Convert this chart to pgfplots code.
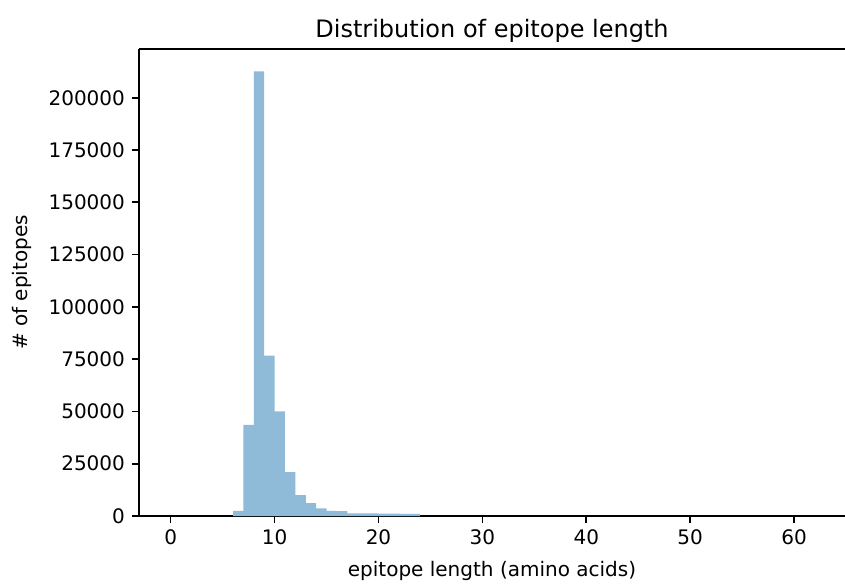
\documentclass[border=0pt]{standalone}
\usepackage{fontspec}
\setmainfont{DejaVu Sans}
\usepackage{pgfplots}
\pgfplotsset{compat=1.18}

\definecolor{barblue}{HTML}{8FBBD9}

\begin{document}
\begin{tikzpicture}
\begin{axis}[
    at={(0,0)}, anchor=south west,
    scale only axis,
    width=353pt, height=233.5pt,
    xmin=-3.05, xmax=64.9,
    ymin=0, ymax=223300,
    scaled y ticks=false,
    axis x line*=bottom,
    axis y line*=left,
    axis line style={line width=0.8pt, -},
    tick align=outside,
    major tick length=3.5pt,
    every tick/.style={line width=0.8pt, black},
    xtick={0,10,20,30,40,50,60},
    xticklabels={0,10,20,30,40,50,60},
    ytick={0,25000,50000,75000,100000,125000,150000,175000,200000},
    yticklabels={0,25000,50000,75000,100000,125000,150000,175000,200000},
    tick label style={font=\fontsize{10}{12}\selectfont},
    title={Distribution of epitope length},
    title style={font=\fontsize{12}{14}\selectfont, yshift=-6.5pt},
    xlabel={epitope length (amino acids)},
    xlabel style={yshift=-1pt},
    ylabel={\# of epitopes},
    ylabel style={yshift=1.5pt},
    label style={font=\fontsize{10}{12}\selectfont},
]
\addplot[const plot, fill=barblue, draw=none] coordinates {
(6,2500) (7,43600) (8,212600) (9,76700) (10,50000) (11,21000)
(12,10000) (13,6100) (14,3700) (15,2400) (16,2300)
(17,1300) (18,1200) (19,1200) (20,1100) (21,1100) (22,1000) (23,1000) (24,1000)
} \closedcycle;
\end{axis}
\draw[line width=0.8pt] (0,233.5pt) -- (353pt,233.5pt);
\pgfresetboundingbox
\path[use as bounding box] (-69.5pt,-33.5pt) rectangle (353pt,258pt);
\end{tikzpicture}
\end{document}
